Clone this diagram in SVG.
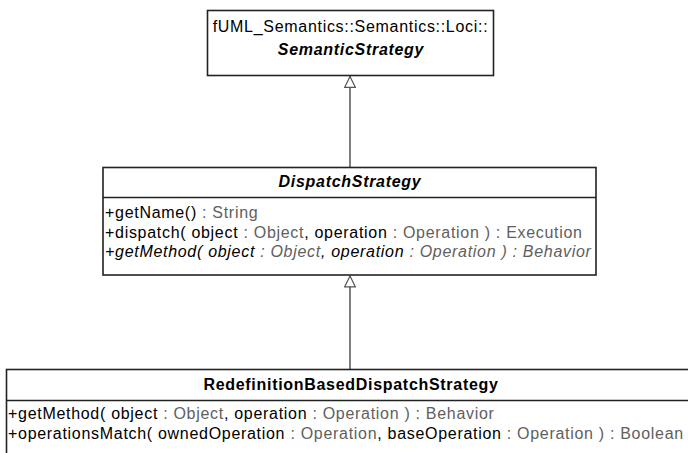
<svg xmlns="http://www.w3.org/2000/svg" width="688" height="453" viewBox="0 0 688 453">
<defs>
<style>
.box{fill:#fff;stroke:#222;stroke-width:1.6}
.div{stroke:#222;stroke-width:1.6}
text{font-family:"Liberation Sans",Arial,sans-serif;font-size:16px;letter-spacing:0.7px;fill:#000}
.t{text-anchor:middle}
.b{font-weight:bold}
.i{font-style:italic}
.g{fill:#606060}
.edge{stroke:#555;stroke-width:1.5;fill:none}
</style>
<marker id="gen" viewBox="0 0 12 12" refX="12" refY="6" markerWidth="12" markerHeight="12" markerUnits="userSpaceOnUse" orient="auto">
<path d="M0.7,0.7 L11.5,6 L0.7,11.3 Z" fill="#fff" stroke="#555" stroke-width="1.2"/>
</marker>
</defs>
<rect width="688" height="453" fill="#fff"/>
<g id="edges">
<line class="edge" x1="350" y1="167.5" x2="350" y2="76" marker-end="url(#gen)"/>
<line class="edge" x1="350" y1="369.5" x2="350" y2="275.5" marker-end="url(#gen)"/>
</g>
<g id="SemanticStrategy">
<rect class="box" x="207.5" y="10.5" width="286" height="65"/>
<text class="t" x="350.5" y="32">fUML_Semantics::Semantics::Loci::</text>
<text class="t b i" x="351" y="55">SemanticStrategy</text>
</g>
<g id="DispatchStrategy">
<rect class="box" x="103" y="167.5" width="493" height="107.5"/>
<line class="div" x1="103" y1="197.5" x2="596" y2="197.5"/>
<text class="t b i" x="350" y="187">DispatchStrategy</text>
<text x="105" y="218">+getName()<tspan class="g"> : String</tspan></text>
<text x="105" y="237.5">+dispatch( object<tspan class="g"> : Object</tspan>, operation<tspan class="g"> : Operation ) : Execution</tspan></text>
<text class="i" x="105" y="257">+getMethod( object<tspan class="g"> : Object</tspan>, operation<tspan class="g"> : Operation ) : Behavior</tspan></text>
</g>
<g id="RedefinitionBasedDispatchStrategy">
<rect class="box" x="6.5" y="369.5" width="688" height="100"/>
<line class="div" x1="6.5" y1="400.5" x2="688" y2="400.5"/>
<text class="t b" x="351" y="389.5">RedefinitionBasedDispatchStrategy</text>
<text x="8" y="419">+getMethod( object<tspan class="g"> : Object</tspan>, operation<tspan class="g"> : Operation ) : Behavior</tspan></text>
<text x="8" y="438.5">+operationsMatch( ownedOperation<tspan class="g"> : Operation</tspan>, baseOperation<tspan class="g"> : Operation ) : Boolean</tspan></text>
</g>
</svg>
